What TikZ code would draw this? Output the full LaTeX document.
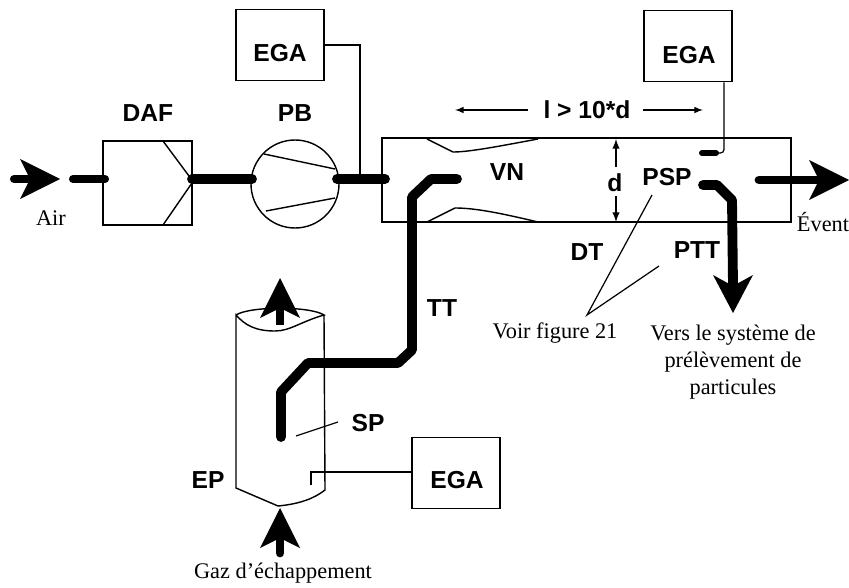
\documentclass[tikz,border=0pt]{standalone}
\usepackage{fontspec}
\setmainfont{Liberation Serif}
\setsansfont{Liberation Sans}
\tikzset{
    labelb/.style={font=\sffamily\bfseries\fontsize{14}{16}\selectfont,inner sep=0pt},
    labelr/.style={font=\fontsize{12.7}{15.4}\selectfont,inner sep=0pt,align=center},
    boxega/.style={draw,line width=0.9pt,minimum width=88*0.02cm,minimum height=71*0.02cm,inner sep=0pt},
    pipe/.style={line width=5.6pt,line cap=round,line join=round},
    thin line/.style={line width=0.7pt},
    wall/.style={line width=0.8pt},
}
\newcommand{\flowhead}[2]{% pointe, direction
    \fill[shift={(#1)},rotate=#2] (0,0) -- (-40,-20) -- (-30,0) -- (-40,20) -- cycle;
}
\begin{document}
\begin{tikzpicture}[x=0.02cm,y=-0.02cm]
    \useasboundingbox (0,0) rectangle (849,588);

    % appareils
    \node[boxega] (ega1) at (280,45) {};
    \node[labelb] (ega1t) at (280,53) {EGA};
    \node[boxega] (ega2) at (688,46) {};
    \node[labelb] (ega2t) at (689,55) {EGA};
    \node[boxega] (ega3) at (456,473) {};
    \node[labelb] (ega3t) at (457,480) {EGA};

    % filtre
    \draw[wall] (103,141) rectangle (192,225);
    \draw[wall] (163,141) -- (189,176);
    \draw[wall] (163,225) -- (192,183);

    % soufflante
    \draw[wall] (295,184) circle (44);
    \draw[wall] (264,154) -- (335,169);
    \draw[wall] (266,211) -- (335,198);

    % tunnel
    \draw[wall] (382,138) rectangle (791,222);
    \draw[wall] (427,139) -- (453,152) .. controls (470,152) and (500,146) .. (538,139);
    \draw[wall] (427,222) -- (455,208) .. controls (475,208) and (500,213) .. (538,222);

    % cylindre
    \draw[wall] (236,315) .. controls (250,306) and (310,306) .. (324,315)
        .. controls (300,322) and (290,331) .. (275,331)
        .. controls (255,331) and (245,325) .. (236,315) -- (236,488) -- (278,506)
        .. controls (300,504) and (315,498) .. (325,490) -- (324,315);

    % conduites
    \draw[pipe,line width=4.6pt] (73,179) -- (105,179);
    \draw[pipe] (192,179) -- (252,179);
    \draw[pipe] (337,179) -- (385,179);
    \draw[pipe] (457,179) -- (431,179) -- (412,197) -- (412,350) -- (398,363) -- (308,363) -- (281,392) -- (281,437);
    \draw[pipe,line width=3.4pt] (702,153) -- (716,153);
    \draw[pipe] (703,185) -- (717,185) -- (732,200) -- (733,285);
    \fill (733,313) -- (713,275) -- (733,286) -- (753,275) -- cycle;

    % fleches
    \draw[pipe,line width=4.6pt] (14,179) -- (40,179);
    \flowhead{60,179}{0}
    \draw[pipe,line width=5pt] (759,180) -- (825,180);
    \flowhead{849,180}{0}
    \draw[pipe,line width=5pt,line cap=butt] (280,295) -- (280,325);
    \flowhead{280,278}{90}
    \draw[pipe,line width=5pt] (280,530) -- (280,553);
    \flowhead{280,508}{90}

    % lignes de mesure
    \coordinate (prise2) at (724,153);
    \draw[thin line] (ega1.east) -- (360,45) -- (360,175);
    \draw[thin line,rounded corners=2pt] (ega2.south -| prise2) -- (prise2) -- (716,153);
    \draw[thin line] (ega3.west |- 0,472) -- (311,472) -- (311,485);
    \draw[thin line] (296,436) -- (338,422);
    \coordinate (voirp) at (587,315);
    \draw[thin line] (652,195) -- (voirp) -- (659,266);

    % cotes
    \draw[->,>=latex,thin line] (528,110) -- (455,110);
    \draw[->,>=latex,thin line] (643,110) -- (703,110);
    \draw[<-,>=latex,line width=0.9pt] (616,139) -- (616,167);
    \draw[->,>=latex,line width=0.9pt] (616,196) -- (616,222);

    % etiquettes
    \node[labelb] (daf) at (148,113) {DAF};
    \node[labelb] (pb) at (295,113) {PB};
    \node[labelb] (l10) at (587,110) {l > 10*d};
    \node[labelb] (vn) at (507,172) {VN};
    \node[labelb] (d) at (615,183) {d};
    \node[labelb] (psp) at (667,177) {PSP};
    \node[labelb] (dt) at (587,252) {DT};
    \node[labelb] (ptt) at (697,250) {PTT};
    \node[labelb] (tt) at (442,308) {TT};
    \node[labelb] (sp) at (368,423) {SP};
    \node[labelb] (ep) at (208,480) {EP};
    \node[labelr] (air) at (51,218) {Air};
    \node[labelr] (event) at (823,222) {Évent};
    \node[labelr] (voir) at (555,333) {Voir figure 21};
    \node[labelr] (vers) at (733,362) {Vers le système de\\prélèvement de\\particules};
    \node[labelr] (gaz) at (283,573) {Gaz d’échappement};
\end{tikzpicture}
\end{document}
